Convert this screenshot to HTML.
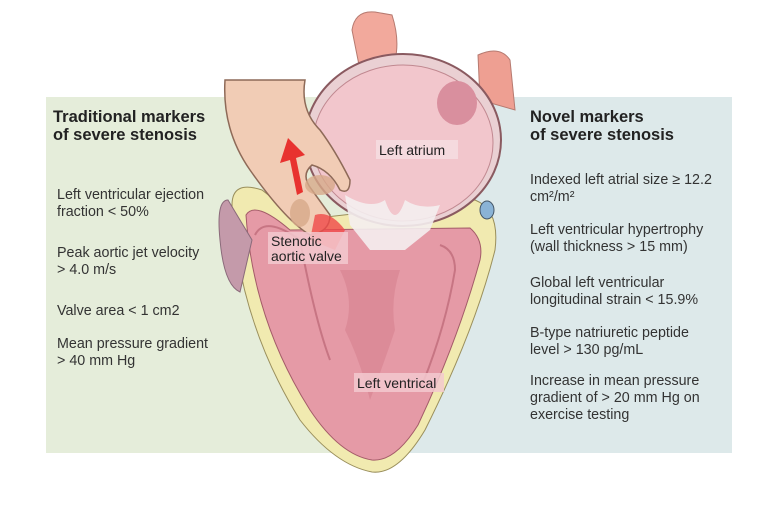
<!DOCTYPE html>
<html><head><style>
body{margin:0;background:#fff;width:780px;height:501px;overflow:hidden}
svg text{font-family:"Liberation Sans",sans-serif}
</style></head><body>
<svg width="780" height="501" viewBox="0 0 780 501" xmlns="http://www.w3.org/2000/svg">
<rect x="46" y="97" width="360" height="356" fill="#e5edda"/>
<rect x="406" y="97" width="326" height="356" fill="#dde9ea"/>
<!-- top vessels -->
<path d="M352 30 Q355 10 375 12 L392 15 Q400 40 395 60 L360 70 Z" fill="#f2a99c" stroke="#b67a70"/>
<path d="M478 55 Q500 45 510 60 L515 110 L480 100 Z" fill="#ee9f92" stroke="#b67a70"/>
<!-- outer heart yellow wall -->
<path d="M232 205 Q232 180 262 190 L300 220 L475 200 Q500 210 495 250 Q475 330 425 430 Q398 475 372 472 Q335 465 300 420 Q238 320 232 205 Z" fill="#f1eab0" stroke="#9a8f5c"/>
<path d="M246 215 Q255 200 290 230 L470 228 Q484 240 480 260 Q458 340 418 425 Q395 462 372 460 Q340 455 310 410 Q253 320 246 215 Z" fill="#e59aa6" stroke="#a35b68"/>
<path d="M255 235 Q265 215 300 240 Q315 320 330 360" fill="none" stroke="#c77583" stroke-width="2"/>
<path d="M440 245 Q455 250 455 270 Q445 330 420 390" fill="none" stroke="#c77583" stroke-width="2"/>
<path d="M340 270 Q355 300 345 330 Q360 360 370 400 Q385 360 395 330 Q390 300 400 270 Z" fill="#d98593" opacity=".7"/>
<!-- left purple appendage -->
<path d="M228 200 Q216 200 220 240 Q224 285 240 292 L252 240 Z" fill="#c49aaa" stroke="#8a6a7a"/>
<!-- atrium -->
<ellipse cx="403" cy="140" rx="98" ry="86" fill="#ead0d3" stroke="#8a5a60" stroke-width="2"/>
<ellipse cx="403" cy="143" rx="90" ry="78" fill="#f2c6cc" stroke="#c08890"/>
<ellipse cx="457" cy="103" rx="20" ry="22" fill="#d98f9e"/>
<!-- chordae white -->
<path d="M345 195 Q370 210 385 200 Q395 230 405 200 Q420 210 440 205 L430 230 L405 250 L370 250 L350 225 Z" fill="#f4eef0" opacity=".9"/>
<!-- aorta tube -->
<path d="M225 80 Q222 130 250 170 Q285 220 310 235 Q330 232 330 215 L312 190 Q300 175 312 165 Q330 170 340 190 Q350 195 350 180 Q335 150 320 130 Q300 110 305 80 Z" fill="#f1ccb5" stroke="#8e6a58" stroke-width="1.5"/>
<ellipse cx="320" cy="185" rx="15" ry="10" fill="#d7a98a" opacity=".8"/>
<ellipse cx="300" cy="213" rx="10" ry="14" fill="#d7a98a" opacity=".8"/>
<path d="M315 215 Q330 210 345 230 L335 250 L310 240 Z" fill="#f04848" opacity=".8"/>
<path d="M297 195 L290 160 L280 163 L288 138 L305 155 L296 158 L303 192 Z" fill="#e8322f"/>
<ellipse cx="487" cy="210" rx="7" ry="9" fill="#8ab3d6" stroke="#456"/>
<!-- labels -->
<g font-size="14" fill="#222">
<rect x="376" y="140" width="82" height="19" fill="#f6dde0" opacity=".85"/>
<text x="379" y="155">Left atrium</text>
<rect x="268" y="232" width="80" height="32" fill="#f3c9cf" opacity=".85"/>
<text x="271" y="246">Stenotic</text><text x="271" y="261">aortic valve</text>
<rect x="354" y="373" width="90" height="19" fill="#f3c9cf" opacity=".85"/>
<text x="357" y="388">Left ventrical</text>
</g>
<g font-size="16.5" font-weight="bold" fill="#222">
<text x="53" y="122">Traditional markers</text><text x="53" y="140">of severe stenosis</text>
<text x="530" y="122">Novel markers</text><text x="530" y="140">of severe stenosis</text>
</g>
<g font-size="14.3" fill="#333">
<text x="57" y="199">Left ventricular ejection</text><text x="57" y="216">fraction &lt; 50%</text>
<text x="57" y="257">Peak aortic jet velocity</text><text x="57" y="274">&gt; 4.0 m/s</text>
<text x="57" y="315">Valve area &lt; 1 cm2</text>
<text x="57" y="348">Mean pressure gradient</text><text x="57" y="365">&gt; 40 mm Hg</text>
<text x="530" y="184">Indexed left atrial size ≥ 12.2</text><text x="530" y="201">cm²/m²</text>
<text x="530" y="234">Left ventricular hypertrophy</text><text x="530" y="251">(wall thickness &gt; 15 mm)</text>
<text x="530" y="287">Global left ventricular</text><text x="530" y="304">longitudinal strain &lt; 15.9%</text>
<text x="530" y="337">B-type natriuretic peptide</text><text x="530" y="354">level  &gt; 130 pg/mL</text>
<text x="530" y="385">Increase in mean pressure</text><text x="530" y="402">gradient of &gt; 20 mm Hg on</text><text x="530" y="419">exercise testing</text>
</g>
</svg>
</body></html>
